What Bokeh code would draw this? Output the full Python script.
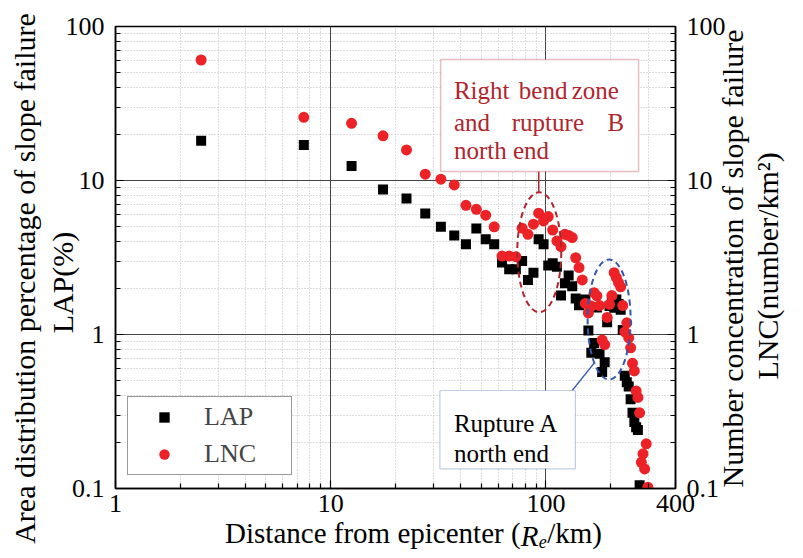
from math import log10, pi
from bokeh.plotting import figure
from bokeh.models import (LogAxis, Range1d, LogScale, FixedTicker,
                          CustomJSTickFormatter, Label, BoxAnnotation)
from bokeh.embed import file_html
from bokeh.resources import INLINE

# ---------------- data ----------------
lap_distance = [2.5, 7.5, 12.5, 17.5, 22.5, 27.5, 32.5, 37.5, 42.5, 47.5,
                52.5, 57.5, 62.5, 67.5, 72.5, 77.5, 82.5, 87.5, 92.5, 97.5,
                102.5, 107.5, 112.5, 117.5, 122.5, 127.5, 132.5, 137.5, 142.5, 147.5,
                152.5, 157.5, 162.5, 167.5, 172.5, 177.5, 182.5, 187.5, 192.5, 197.5,
                202.5, 207.5, 212.5, 217.5, 222.5, 227.5, 232.5, 237.5, 242.5, 247.5,
                252.5, 257.5, 262.5, 267.5, 272.5]
lap_values = [18.1, 17.0, 12.4, 8.74, 7.64, 6.1, 5.0, 4.4, 3.85, 4.87,
              4.15, 3.85, 2.93, 2.65, 2.65, 3.0, 2.26, 2.52, 4.15, 3.85,
              2.81, 2.9, 2.75, 1.79, 2.15, 2.42, 2.06, 1.71, 1.55, 1.62,
              1.69, 1.06, 0.76, 0.88, 1.50, 0.75, 0.57, 0.66, 1.20, 1.53,
              1.62, 1.49, 1.69, 1.58, 1.45, 1.07, 0.54, 0.49, 0.46, 0.38,
              0.31, 0.27, 0.25, 0.24, 0.105]

lnc_distance = [2.5, 7.5, 12.5, 17.5, 22.5, 27.5, 32.5, 37.5, 42.5, 47.5,
                52.5, 57.5, 62.5, 67.5, 72.5, 77.5, 82.5, 87.5, 92.5, 97.5,
                102.5, 107.5, 112.5, 117.5, 122.5, 127.5, 132.5, 137.5, 142.5, 147.5,
                152.5, 157.5, 162.5, 167.5, 172.5, 177.5, 182.5, 187.5, 192.5, 197.5,
                202.5, 207.5, 212.5, 217.5, 222.5, 227.5, 232.5, 237.5, 242.5, 247.5,
                252.5, 257.5, 262.5, 267.5, 272.5, 277.5, 282.5, 287.5, 292.5, 297.5]
lnc_values = [60.6, 25.7, 23.5, 19.5, 15.8, 11.0, 10.2, 9.36, 6.9, 6.5,
              5.95, 5.0, 3.23, 3.23, 3.2, 4.9, 4.47, 5.2, 6.13, 5.46,
              5.83, 4.77, 4.05, 3.72, 4.47, 4.4, 4.26, 3.15, 2.72, 2.26,
              1.59, 1.38, 1.53, 1.87, 1.78, 1.54, 0.92, 0.86, 1.29, 1.57,
              1.79, 2.52, 2.34, 2.17, 2.04, 1.54, 1.04, 1.19, 0.95, 0.82,
              0.65, 0.58, 0.43, 0.39, 0.31, 0.148, 0.168, 0.134, 0.195, 0.102]

x_major = [1, 10, 100, 400]
x_minor = [2, 3, 4, 5, 6, 7, 8, 9, 20, 30, 40, 50, 60, 70, 80, 90, 200, 300]
y_major = [0.1, 1, 10, 100]
y_minor = [0.2, 0.3, 0.4, 0.5, 0.6, 0.7, 0.8, 0.9,
           2, 3, 4, 5, 6, 7, 8, 9, 20, 30, 40, 50, 60, 70, 80, 90]

x_title_normal = ["Distance from epicenter (", "/km)"]
x_title_italic = "R"
x_title_sub = "e"
y_left_title = ["Area distribution percentage of slope failure", "LAP(%)"]
y_right_title = ["Number concentration of slope failure", "LNC(number/km\u00b2)"]
note_red = [["Right", "bend", "zone"], ["and", "rupture", "B"], ["north end"]]
note_blue = ["Rupture A", "north end"]

# ---------------- layout ----------------
W, H = 803, 558
FL, FR, FT, FB = 115, 676, 26, 488
XMIN, XMAX, YMIN, YMAX = 1, 400, 0.1, 100
FONT = "Liberation Serif"


def dx(px):
    return 10 ** (log10(XMIN) + (px - FL) / (FR - FL) * (log10(XMAX) - log10(XMIN)))


def dy(py):
    return 10 ** (log10(YMIN) + (FB - py) / (FB - FT) * (log10(YMAX) - log10(YMIN)))


p = figure(width=W, height=H, x_axis_type="log", y_axis_type="log",
           x_range=Range1d(XMIN, XMAX), y_range=Range1d(YMIN, YMAX),
           output_backend="svg", toolbar_location=None,
           min_border_left=FL, min_border_right=W - FR,
           min_border_top=FT, min_border_bottom=H - FB)
p.extra_y_ranges = {"right": Range1d(YMIN, YMAX)}
p.extra_y_scales = {"right": LogScale()}
p.add_layout(LogAxis(y_range_name="right"), "right")

p.background_fill_color = "white"
p.border_fill_color = "white"
p.outline_line_color = "black"
p.outline_line_width = 1.5

fmt = CustomJSTickFormatter(code="return tick.toString()")
xt = FixedTicker(ticks=x_major, minor_ticks=x_minor)
yt = FixedTicker(ticks=y_major, minor_ticks=y_minor)

for ax in p.xaxis:
    ax.ticker = xt
    ax.major_label_standoff = 6
for ax in p.yaxis:
    ax.ticker = yt
    ax.major_label_standoff = 11
for ax in p.xaxis + p.yaxis:
    ax.formatter = fmt
    ax.axis_line_color = "black"
    ax.axis_line_width = 1.5
    ax.major_tick_in = 8
    ax.major_tick_out = 0
    ax.minor_tick_in = 5
    ax.minor_tick_out = 0
    ax.major_tick_line_color = "black"
    ax.minor_tick_line_color = "black"
    ax.major_tick_line_width = 1.2
    ax.minor_tick_line_width = 1.2
    ax.major_label_text_font = FONT
    ax.major_label_text_font_size = "26px"
    ax.major_label_text_color = "black"

for g in (p.xgrid[0], p.ygrid[0]):
    g.grid_line_color = "#444444"
    g.grid_line_width = 1
    g.minor_grid_line_color = "#bdbdbd"
    g.minor_grid_line_dash = "1 2"
    g.minor_grid_line_width = 1
p.xgrid[0].ticker = xt
p.ygrid[0].ticker = yt


# ---------------- axis titles as label-only guide axes ----------------
def title_axis(side, texts, where, size, standoff, orientation, style="normal",
               line_height=1.2):
    ax = LogAxis(ticker=FixedTicker(ticks=where, minor_ticks=[]),
                 formatter=CustomJSTickFormatter(args=dict(labels=texts),
                                                 code="return labels[index];"),
                 major_label_orientation=orientation,
                 major_label_standoff=standoff,
                 major_tick_in=0, major_tick_out=0, minor_tick_in=0, minor_tick_out=0,
                 axis_line_color=None, major_tick_line_color=None,
                 minor_tick_line_color=None,
                 major_label_text_font=FONT, major_label_text_font_size=size,
                 major_label_text_font_style=style, major_label_text_color="black",
                 major_label_text_line_height=line_height)
    p.add_layout(ax, side)


# left: "LAP(%)" closest to the frame, then the long line (both centred on the tick)
title_axis("left", [y_left_title[1]], [dy(282)], "30px", -16, "vertical")
title_axis("left", [y_left_title[0]], [dy(278)], "30px", 2, "vertical")
# right: text starts at the tick and runs upward
title_axis("right", [y_right_title[0]], [dy(487)], "30px", 4, pi / 2)
title_axis("right", [y_right_title[1]], [dy(379)], "30px", -1, pi / 2, line_height=0.6)
# below: x title pieces, centred on their ticks
title_axis("below", x_title_normal, [dx(372.8), dx(574.9)], "29px", 2, "horizontal")
title_axis("below", [x_title_italic], [dx(529.9)], "29px", -32, "horizontal", style="italic")
title_axis("below", [x_title_sub], [dx(543)], "18px", -20, "horizontal", style="italic")

# ---------------- data marks ----------------
p.scatter(lap_distance, lap_values, marker="square", size=10,
          fill_color="black", line_color=None, legend_label="LAP")
p.scatter(lnc_distance, lnc_values, marker="circle", size=11,
          fill_color="#ed2226", line_color=None, legend_label="LNC")

leg = p.legend[0]
leg.location = (12, 13)
leg.label_text_font = FONT
leg.label_text_font_size = "26px"
leg.border_line_color = "#333333"
leg.border_line_width = 1
leg.background_fill_alpha = 1
leg.padding = 5
leg.spacing = 7
leg.margin = 0
leg.glyph_height = 26
leg.glyph_width = 62
leg.label_height = 26
leg.label_standoff = 9
leg.label_width = 82

# ---------------- annotations ----------------
RED = "#b0252c"
BLUE = "#3157aa"

p.ellipse(x=[dx(539.5)], y=[dy(251.7)], width=44, height=120,
          width_units="screen", height_units="screen",
          fill_color=None, line_color=RED, line_width=2, line_dash="6 4")
p.ellipse(x=[dx(609.5)], y=[dy(319)], width=43, height=120,
          width_units="screen", height_units="screen",
          fill_color=None, line_color=BLUE, line_width=2, line_dash="6 4")
p.segment(x0=[dx(539)], y0=[dy(171)], x1=[dx(539)], y1=[dy(191.7)],
          line_color=RED, line_width=1.5)
p.segment(x0=[dx(595)], y0=[dy(362)], x1=[dx(572.5)], y1=[dy(390)],
          line_color=BLUE, line_width=1.2)

p.add_layout(BoxAnnotation(left=dx(440.7), right=dx(639), top=dy(59), bottom=dy(171),
                           fill_color="white", fill_alpha=1,
                           line_color=RED, line_width=1.5))
p.add_layout(BoxAnnotation(left=dx(440), right=dx(575.7), top=dy(390), bottom=dy(468.3),
                           fill_color="white", fill_alpha=1,
                           line_color=BLUE, line_width=1.2))


def lab(px, py, text, size, color="black"):
    p.add_layout(Label(x=dx(px), y=dy(py), text=text, text_font=FONT,
                       text_font_size=size, text_color=color, text_align="left",
                       text_baseline="alphabetic"))


red_pos = [[(454, 90), (519, 90), (572, 90)],
           [(454, 121.7), (512, 121.7), (608, 121.7)],
           [(454, 150)]]
for words, poss in zip(note_red, red_pos):
    for w, (px, py) in zip(words, poss):
        lab(px, py, w, "25px", color=RED)

lab(454, 422.7, note_blue[0], "25px")
lab(454, 452.7, note_blue[1], "25px")

open("out.html", "w").write(file_html(p, INLINE))
